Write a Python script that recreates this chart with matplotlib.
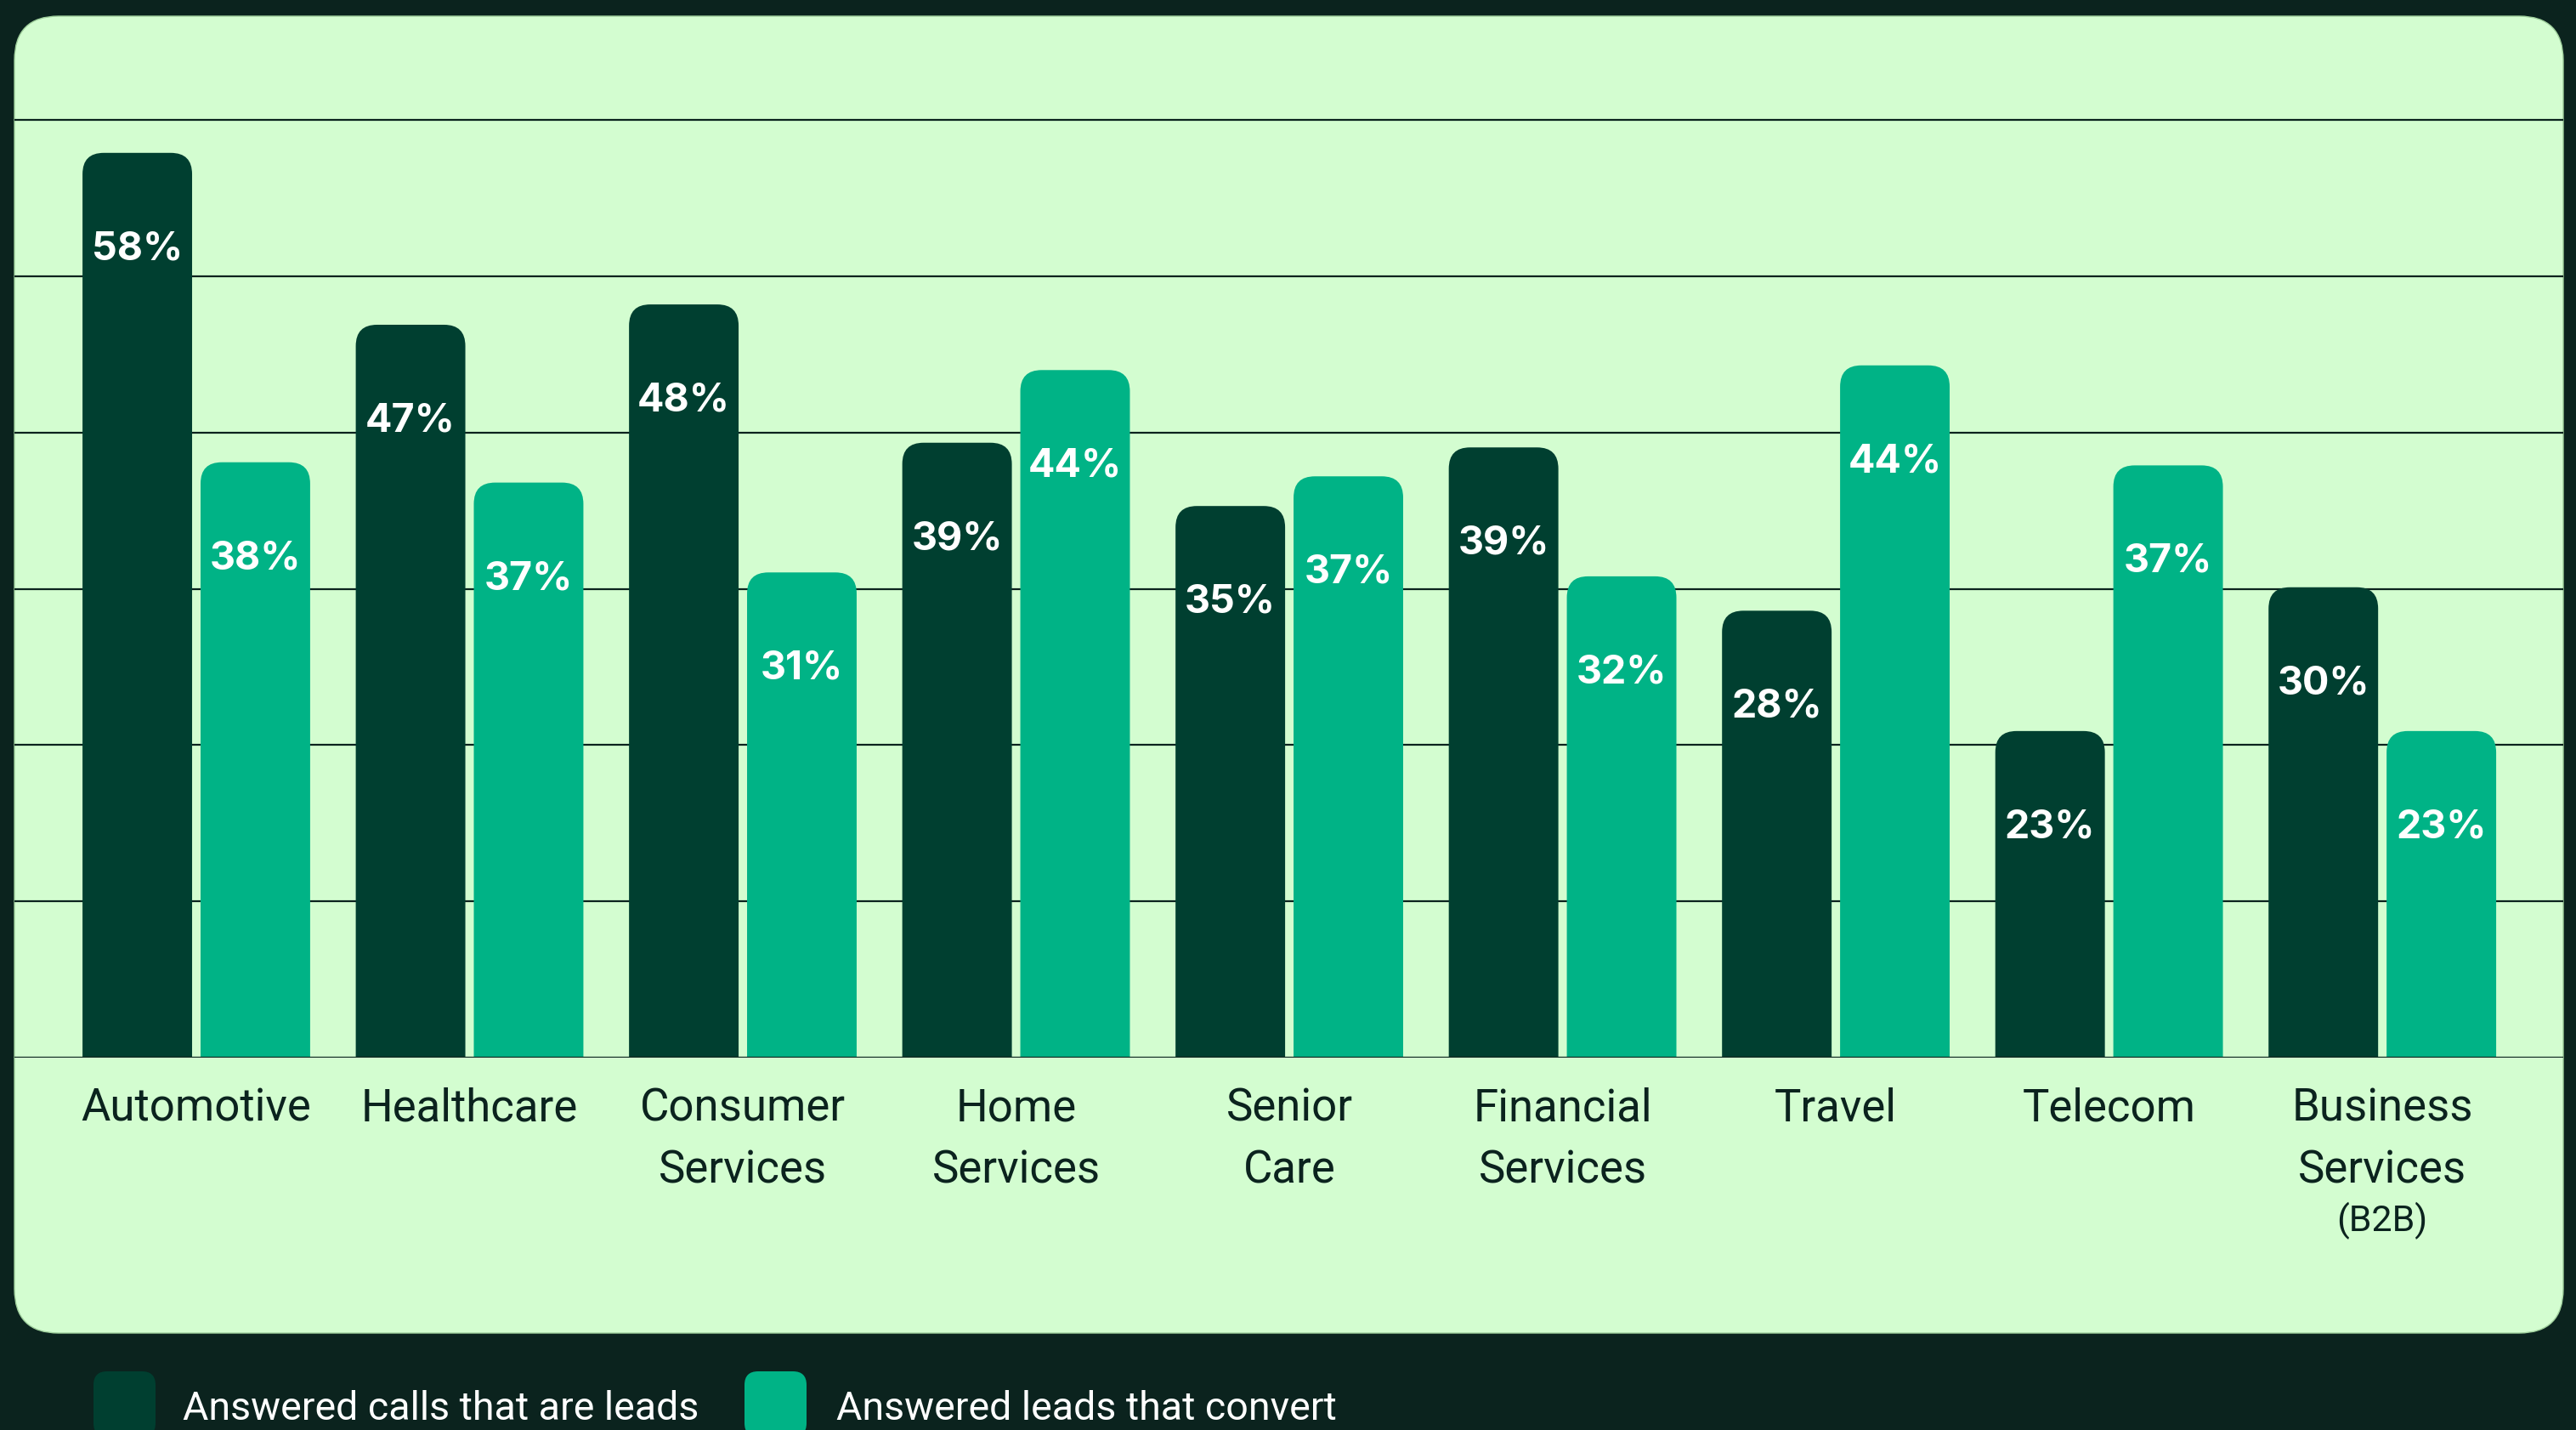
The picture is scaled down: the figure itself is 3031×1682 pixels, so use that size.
"""
Answered calls / leads by industry - rounded grouped bar chart
"""

import matplotlib.pyplot as plt
from matplotlib.patches import FancyBboxPatch

categories = ['Automotive', 'Healthcare', 'Consumer\nServices', 'Home\nServices',
              'Senior\nCare', 'Financial\nServices', 'Travel', 'Telecom',
              'Business\nServices']
# printed labels
calls_leads = [58, 47, 48, 39, 35, 39, 28, 23, 30]
leads_convert = [38, 37, 31, 44, 37, 32, 44, 37, 23]
# bar heights as drawn in the picture (they don't always match the labels)
calls_leads_bar = [57.9, 46.9, 48.2, 39.35, 35.3, 39.05, 28.6, 20.9, 30.1]
leads_convert_bar = [38.1, 36.8, 31.05, 44.0, 37.2, 30.8, 44.3, 37.9, 20.9]
series_names = ['Answered calls that are leads', 'Answered leads that convert']
grid_values = [10, 20, 30, 40, 50, 60]

bg = '#0b231e'
panel_col = '#d3fdd0'
dark = '#003f30'
teal = '#00b386'

plt.rcParams['font.family'] = ['Roboto', 'DejaVu Sans']

W, H = 3031, 1682
fig = plt.figure(figsize=(W / 100, H / 100), dpi=100, facecolor=bg)

# light panel with rounded corners (figure fraction coords)
px, py = 17 / W, (H - 1568) / H
pw, ph = (3016 - 17) / W, (1568 - 19) / H
panel = FancyBboxPatch((px, py), pw, ph, boxstyle=f"round,pad=0,rounding_size={52 / W}",
                       mutation_aspect=W / H, transform=fig.transFigure,
                       facecolor=panel_col, edgecolor='#9fcf9c', linewidth=1, zorder=-1)
fig.patches.append(panel)

ax_left, ax_bottom = 17 / W, (H - 1244) / H
ax_w, ax_h = (3016 - 17) / W, (1244 - 19) / H
ax = fig.add_axes([ax_left, ax_bottom, ax_w, ax_h])
ax.set_facecolor('none')
for s in ax.spines.values():
    s.set_visible(False)
ax.set_xticks([])
ax.set_yticks([])

xlim = (-0.6656, 8.662)
ylim = (0, 1225 / 18.38)
ax.set_xlim(*xlim)
ax.set_ylim(*ylim)

for g in grid_values:
    ax.axhline(g, color=bg, lw=1.6, zorder=0)
ax.axhline(0, color=bg, lw=1.6, zorder=3)

# rounded-top bars
width = 0.401
offset = 0.216
rs = 25 / 321.5
ma = (ylim[1] / (ax_h * H)) / ((xlim[1] - xlim[0]) / (ax_w * W))
lab_drop = 125.5 / 18.38   # baseline of value label below bar top

for i, cat in enumerate(categories):
    for val, h, off, col in [(calls_leads[i], calls_leads_bar[i], -offset, dark),
                             (leads_convert[i], leads_convert_bar[i], offset, teal)]:
        x = i + off
        bar = FancyBboxPatch((x - width / 2, -10), width, h + 10,
                             boxstyle=f"round,pad=0,rounding_size={rs}",
                             mutation_aspect=ma, facecolor=col, edgecolor='none', zorder=2)
        ax.add_patch(bar)
        ax.text(x, h - lab_drop, f'{val}%', ha='center', va='baseline', color='white',
                fontsize=33.5, fontweight='bold', family=['Inter', 'DejaVu Sans'], zorder=4)
    for k, line in enumerate(cat.split('\n')):
        ax.annotate(line, xy=(i, 0), xycoords='data', xytext=(0, -74.5 - 73 * k),
                    textcoords='offset pixels', ha='center', va='baseline',
                    fontsize=38, color=bg, annotation_clip=False)

ax.annotate('(B2B)', xy=(8, 0), xycoords='data', xytext=(0, -204), textcoords='offset pixels',
            ha='center', va='baseline', fontsize=31, color=bg, annotation_clip=False)

# legend
for (x0, tx, name, col) in [(110, 215, series_names[0], dark), (876, 984, series_names[1], teal)]:
    sw = FancyBboxPatch((x0 / W, (H - 1690) / H), 73 / W, 77 / H,
                        boxstyle=f"round,pad=0,rounding_size={16 / W}",
                        mutation_aspect=W / H, transform=fig.transFigure,
                        facecolor=col, edgecolor='none')
    fig.patches.append(sw)
    fig.text(tx / W, (H - 1670) / H, name, ha='left', va='baseline', color='white',
             fontsize=33.5)

fig.savefig('out.png', dpi=100, facecolor=bg)
